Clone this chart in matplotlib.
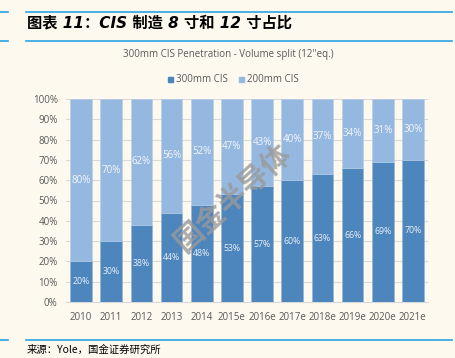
import matplotlib.pyplot as plt
import numpy as np

plt.rcParams['font.family'] = ['Open Sans', 'Noto Sans CJK SC', 'DejaVu Sans']

years = ['2010', '2011', '2012', '2013', '2014', '2015e', '2016e',
         '2017e', '2018e', '2019e', '2020e', '2021e']
cis_300 = [20, 30, 38, 44, 48, 53, 57, 60, 63, 66, 69, 70]
cis_200 = [80, 70, 62, 56, 52, 47, 43, 40, 37, 34, 31, 30]

bg = '#FDF9EF'
dark = '#4D86BD'
light = '#95B8E0'
gray = '#595959'

fig = plt.figure(figsize=(4.56, 3.58), dpi=100, facecolor=bg)
ax = fig.add_axes([66 / 456, 1 - 302 / 358, 362 / 456, 203 / 358], facecolor=bg)

x = np.arange(len(years))
ax.bar(x, cis_300, width=0.72, color=dark, edgecolor='#8FB3DB', linewidth=0.4, zorder=3)
ax.bar(x, cis_200, width=0.72, bottom=cis_300, color=light,
       edgecolor='#B5CDE8', linewidth=0.4, zorder=3)

for i in range(len(years)):
    ax.text(x[i], cis_300[i] / 2, f'{cis_300[i]}%', ha='center', va='center',
            fontsize=6.3, color='#E8EEF6', zorder=4)
    ax.text(x[i], cis_300[i] + cis_200[i] / 2, f'{cis_200[i]}%', ha='center',
            va='center', fontsize=7, color='#F4F7FB', zorder=4)

ax.set_xlim(-0.5, len(years) - 0.5)
ax.set_ylim(0, 100)
ax.set_yticks(range(0, 101, 10))
ax.set_yticklabels([f'{v}%' for v in range(0, 101, 10)])
ax.set_xticks(x)
ax.set_xticklabels(years)
ax.tick_params(axis='y', length=0, labelsize=7, labelcolor=gray, pad=6)
ax.tick_params(axis='x', length=0, labelsize=7, labelcolor=gray, pad=7)
ax.grid(axis='y', color='#D9D9D9', linewidth=0.8, zorder=0)
for s in ['top', 'right', 'left']:
    ax.spines[s].set_visible(False)
ax.spines['bottom'].set_color('#D9D9D9')
ax.spines['bottom'].set_linewidth(0.8)

# chart title and legend
fig.text(0.5, 1 - 55 / 358, "300mm CIS Penetration - Volume split (12''eq.)",
         ha='center', va='center', fontsize=7, color=gray)
fig.patches.append(plt.Rectangle((168 / 456, 1 - 82 / 358), 5 / 456, 5 / 358,
                                 transform=fig.transFigure, color=dark))
fig.text(176 / 456, 1 - 79 / 358, '300mm CIS', ha='left', va='center',
         fontsize=7, color=gray)
fig.patches.append(plt.Rectangle((239 / 456, 1 - 82 / 358), 5 / 456, 5 / 358,
                                 transform=fig.transFigure, color=light))
fig.text(247 / 456, 1 - 79 / 358, '200mm CIS', ha='left', va='center',
         fontsize=7, color=gray)

# header / footer lines
line_c = '#29A3E6'
for yy in [12, 41, 340]:
    fig.add_artist(plt.Line2D([0, 8 / 456], [1 - yy / 358] * 2, color=line_c, lw=1.2))
    fig.add_artist(plt.Line2D([26 / 456, 452 / 456], [1 - yy / 358] * 2, color=line_c, lw=1.2))

fig.text(27 / 456, 1 - 23 / 358, '图表 11：CIS 制造 8 寸和 12 寸占比', ha='left',
         va='center', fontsize=11, fontweight='bold', style='italic', color='black',
         family=['DejaVu Sans', 'Noto Sans CJK SC'])
fig.text(27 / 456, 1 - 350 / 358, '来源：Yole，国金证券研究所', ha='left',
         va='center', fontsize=7.5, color='black',
         family=['Noto Sans CJK SC', 'DejaVu Sans'])

# watermark
fig.text(233 / 456, 1 - 197 / 358, '国金半导体', ha='center', va='center',
         fontsize=21, fontweight='bold', color='#999999', alpha=0.8,
         rotation=42, zorder=10, family=['Noto Sans CJK SC'])

fig.savefig('out.png', dpi=100, facecolor=bg)
